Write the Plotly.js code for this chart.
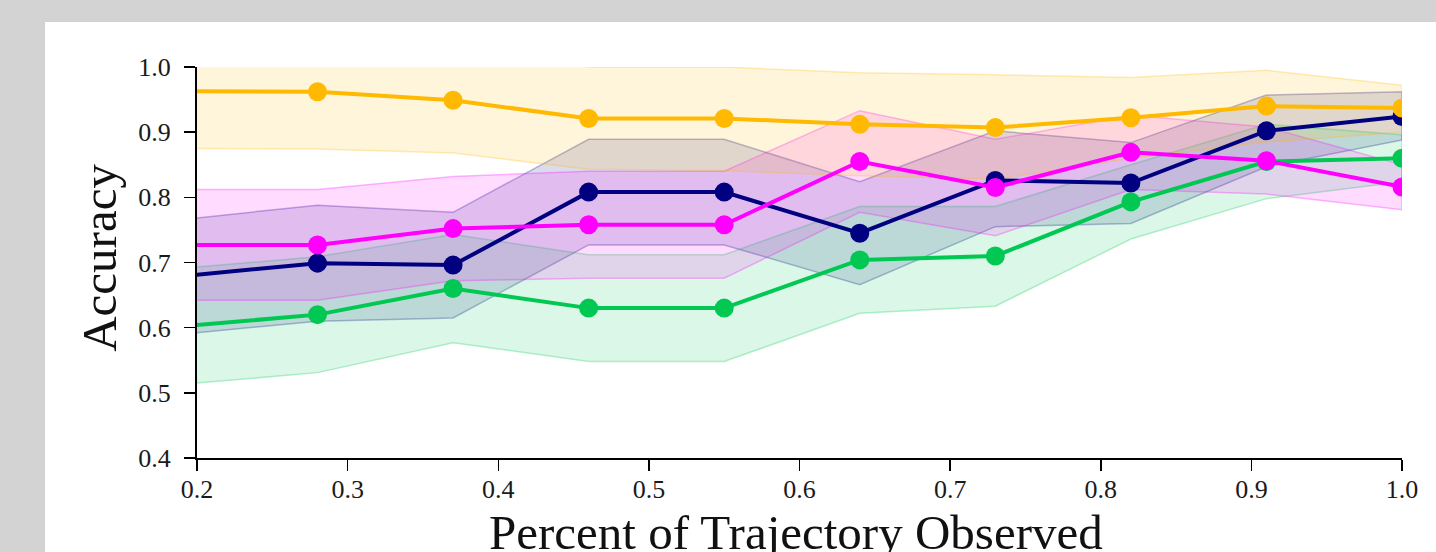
<!DOCTYPE html>
<html>
<head>
<meta charset="utf-8">
<script src="https://cdn.plot.ly/plotly-3.0.1.min.js"></script>
<style>html,body{margin:0;padding:0;background:#d3d3d3;}#chart{width:1436px;height:552px;}</style>
</head>
<body>
<div id="chart"></div>
<script>
// Percent of trajectory observed (first point lies just left of the visible range)
const xObs = [0.19, 0.28, 0.37, 0.46, 0.55, 0.64, 0.73, 0.82, 0.91, 1.0];

const orangeMean  = [0.963, 0.962, 0.949, 0.921, 0.921, 0.912, 0.907, 0.922, 0.940, 0.937];
const orangeUpper = [1.050, 1.050, 1.030, 1.000, 1.000, 0.991, 0.988, 0.984, 0.995, 0.972];
const orangeLower = [0.875, 0.874, 0.868, 0.843, 0.841, 0.833, 0.828, 0.860, 0.885, 0.900];

const navyMean  = [0.679, 0.699, 0.696, 0.808, 0.808, 0.745, 0.826, 0.822, 0.902, 0.924];
const navyUpper = [0.766, 0.788, 0.777, 0.889, 0.889, 0.824, 0.902, 0.884, 0.957, 0.962];
const navyLower = [0.590, 0.610, 0.615, 0.727, 0.727, 0.666, 0.755, 0.760, 0.847, 0.888];

const pinkMean  = [0.727, 0.727, 0.752, 0.758, 0.758, 0.855, 0.815, 0.869, 0.856, 0.816];
const pinkUpper = [0.812, 0.812, 0.832, 0.840, 0.840, 0.933, 0.889, 0.926, 0.908, 0.850];
const pinkLower = [0.642, 0.642, 0.672, 0.676, 0.676, 0.777, 0.741, 0.812, 0.805, 0.781];

const greenMean  = [0.602, 0.620, 0.660, 0.630, 0.630, 0.704, 0.710, 0.793, 0.855, 0.860];
const greenUpper = [0.691, 0.709, 0.743, 0.712, 0.712, 0.786, 0.786, 0.850, 0.912, 0.896];
const greenLower = [0.513, 0.531, 0.577, 0.548, 0.548, 0.622, 0.633, 0.736, 0.798, 0.824];

const xTickVals = [0.2, 0.3, 0.4, 0.5, 0.6, 0.7, 0.8, 0.9, 1.0];
const yTickVals = [0.4, 0.5, 0.6, 0.7, 0.8, 0.9, 1.0];
const xTitle = 'Percent of Trajectory Observed';
const yTitle = 'Accuracy';

const series = [
  {name: 'navy',   rgb: [0, 0, 128],   mean: navyMean,   up: navyUpper,   lo: navyLower},
  {name: 'green',  rgb: [0, 200, 83],  mean: greenMean,  up: greenUpper,  lo: greenLower},
  {name: 'pink',   rgb: [255, 0, 255], mean: pinkMean,   up: pinkUpper,   lo: pinkLower},
  {name: 'orange', rgb: [255, 185, 0], mean: orangeMean, up: orangeUpper, lo: orangeLower}
];
const rgba = (c, a) => `rgba(${c[0]},${c[1]},${c[2]},${a})`;

const traces = [];
// bands first
series.forEach(s => {
  traces.push({
    x: xObs.concat(xObs.slice().reverse()),
    y: s.up.concat(s.lo.slice().reverse()),
    type: 'scatter', mode: 'lines', fill: 'toself',
    fillcolor: rgba(s.rgb, 0.14),
    line: {color: rgba(s.rgb, 0.28), width: 1.5},
    hoverinfo: 'skip', showlegend: false
  });
});
// mean lines
series.forEach(s => {
  traces.push({
    x: xObs, y: s.mean, type: 'scatter', mode: 'lines+markers',
    line: {color: rgba(s.rgb, 1), width: 4},
    marker: {color: rgba(s.rgb, 1), size: 19},
    name: s.name, showlegend: false, cliponaxis: true
  });
});

const serif = 'Liberation Serif, Times New Roman, serif';
const tickFont = {family: serif, size: 26, color: '#1a1a1a'};
const titleFont = {family: serif, size: 49, color: '#111'};

const layout = {
  width: 1436, height: 552,
  paper_bgcolor: '#d3d3d3',
  plot_bgcolor: '#ffffff',
  margin: {l: 197, r: 34, t: 67, b: 94, pad: 0},
  showlegend: false,
  shapes: [{
    type: 'rect', xref: 'paper', yref: 'paper', layer: 'below',
    x0: -0.1261, x1: 1.03, y0: -0.25, y1: 1.1151,
    fillcolor: '#ffffff', line: {width: 0}
  }],
  annotations: [
    {text: xTitle, xref: 'paper', yref: 'paper', x: 0.4975, y: -0.19,
     xanchor: 'center', yanchor: 'middle', showarrow: false, font: titleFont},
    {text: yTitle, xref: 'paper', yref: 'paper', x: -0.0805, y: 0.512,
     xanchor: 'center', yanchor: 'middle', textangle: -90, showarrow: false, font: titleFont}
  ],
  xaxis: {
    range: [0.2, 1.0], tickvals: xTickVals, tickformat: '.1f',
    showgrid: false, zeroline: false,
    showline: true, linecolor: '#000', linewidth: 2,
    ticks: 'outside', ticklen: 11, tickwidth: 1.5, tickcolor: '#000',
    tickfont: tickFont, ticklabelstandoff: -4
  },
  yaxis: {
    range: [0.4, 1.0], tickvals: yTickVals, tickformat: '.1f',
    showgrid: false, zeroline: false,
    showline: true, linecolor: '#000', linewidth: 2,
    ticks: 'outside', ticklen: 11, tickwidth: 1.5, tickcolor: '#000',
    tickfont: tickFont, ticklabelstandoff: 8
  }
};

Plotly.newPlot('chart', traces, layout, {displayModeBar: false, staticPlot: true});
</script>
</body>
</html>
